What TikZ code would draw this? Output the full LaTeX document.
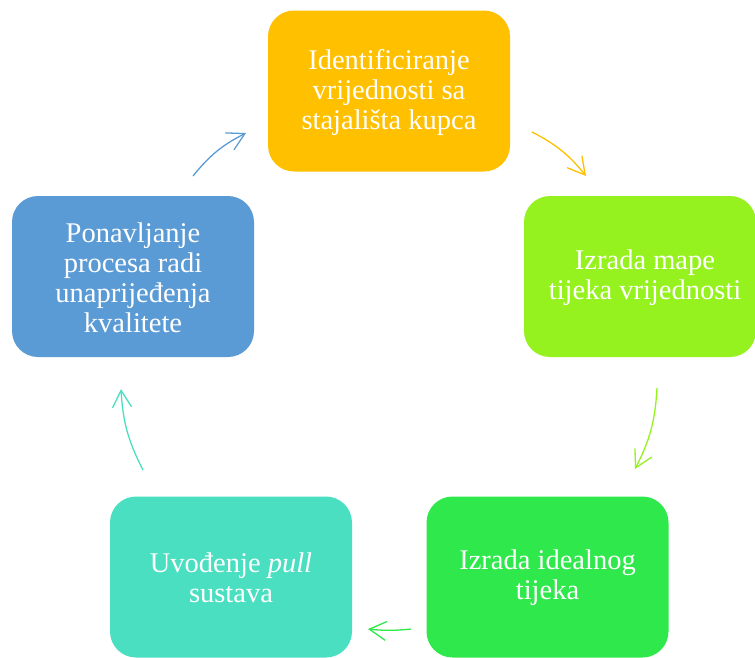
\documentclass[tikz,border=0pt]{standalone}
\usepackage{fontspec}
\setmainfont{Liberation Serif}
\usetikzlibrary{arrows.meta}
\definecolor{cTop}{HTML}{FFC000}
\definecolor{cRight}{HTML}{96F21E}
\definecolor{cGreen}{HTML}{2FE84B}
\definecolor{cTeal}{HTML}{4ADFC1}
\definecolor{cBlue}{HTML}{5B9BD5}
\begin{document}
\begin{tikzpicture}[x=1pt,y=-1pt,
  box/.style={draw=none, rounded corners=26pt, minimum width=242pt, minimum height=161pt, inner sep=0pt},
  txt/.style={text=white, align=center, font=\fontsize{28.5}{30}\selectfont, inner sep=0pt},
  conn/.style={line width=1.3pt, -{Straight Barb[length=17pt,width=19pt,line width=1.3pt]}, bend left=12}]
\useasboundingbox (0,0) rectangle (755,657);
% boxes
\node[box, fill=cTop] (b1) at (389,91) {};
\node[box, fill=cRight, minimum width=232pt] (b2) at (640,276.5) {};
\node[box, fill=cGreen] (b3) at (547.5,577) {};
\node[box, fill=cTeal] (b4) at (231,577) {};
\node[box, fill=cBlue] (b5) at (133,276.5) {};
% texts
\node[txt] (t1) at (389,92) {Identificiranje\\vrijednosti sa\\stajališta kupca};
\node[txt] (t2) at (645,278) {Izrada mape\\tijeka vrijednosti};
\node[txt] (t3) at (547.5,578) {Izrada idealnog\\tijeka};
\node[txt] (t4) at (231,578) {Uvođenje \textit{pull}\\sustava};
\node[txt] (t5) at (133,278) {Ponavljanje\\procesa radi\\unaprijeđenja\\kvalitete};
% connector ends
\coordinate (a1s) at (532,132); \coordinate (a1e) at (586,176);
\coordinate (a2s) at (657,388); \coordinate (a2e) at (635,469);
\coordinate (a3s) at (411,629); \coordinate (a3e) at (368,629);
\coordinate (a4s) at (143,470); \coordinate (a4e) at (121,389);
\coordinate (a5s) at (193,176); \coordinate (a5e) at (246,133);
\draw[conn, cTop] (a1s) to (a1e);
\draw[conn, cRight] (a2s) to (a2e);
\draw[conn, cGreen, bend left=6] (a3s) to (a3e);
\draw[conn, cTeal] (a4s) to (a4e);
\draw[conn, cBlue] (a5s) to (a5e);
\end{tikzpicture}
\end{document}
